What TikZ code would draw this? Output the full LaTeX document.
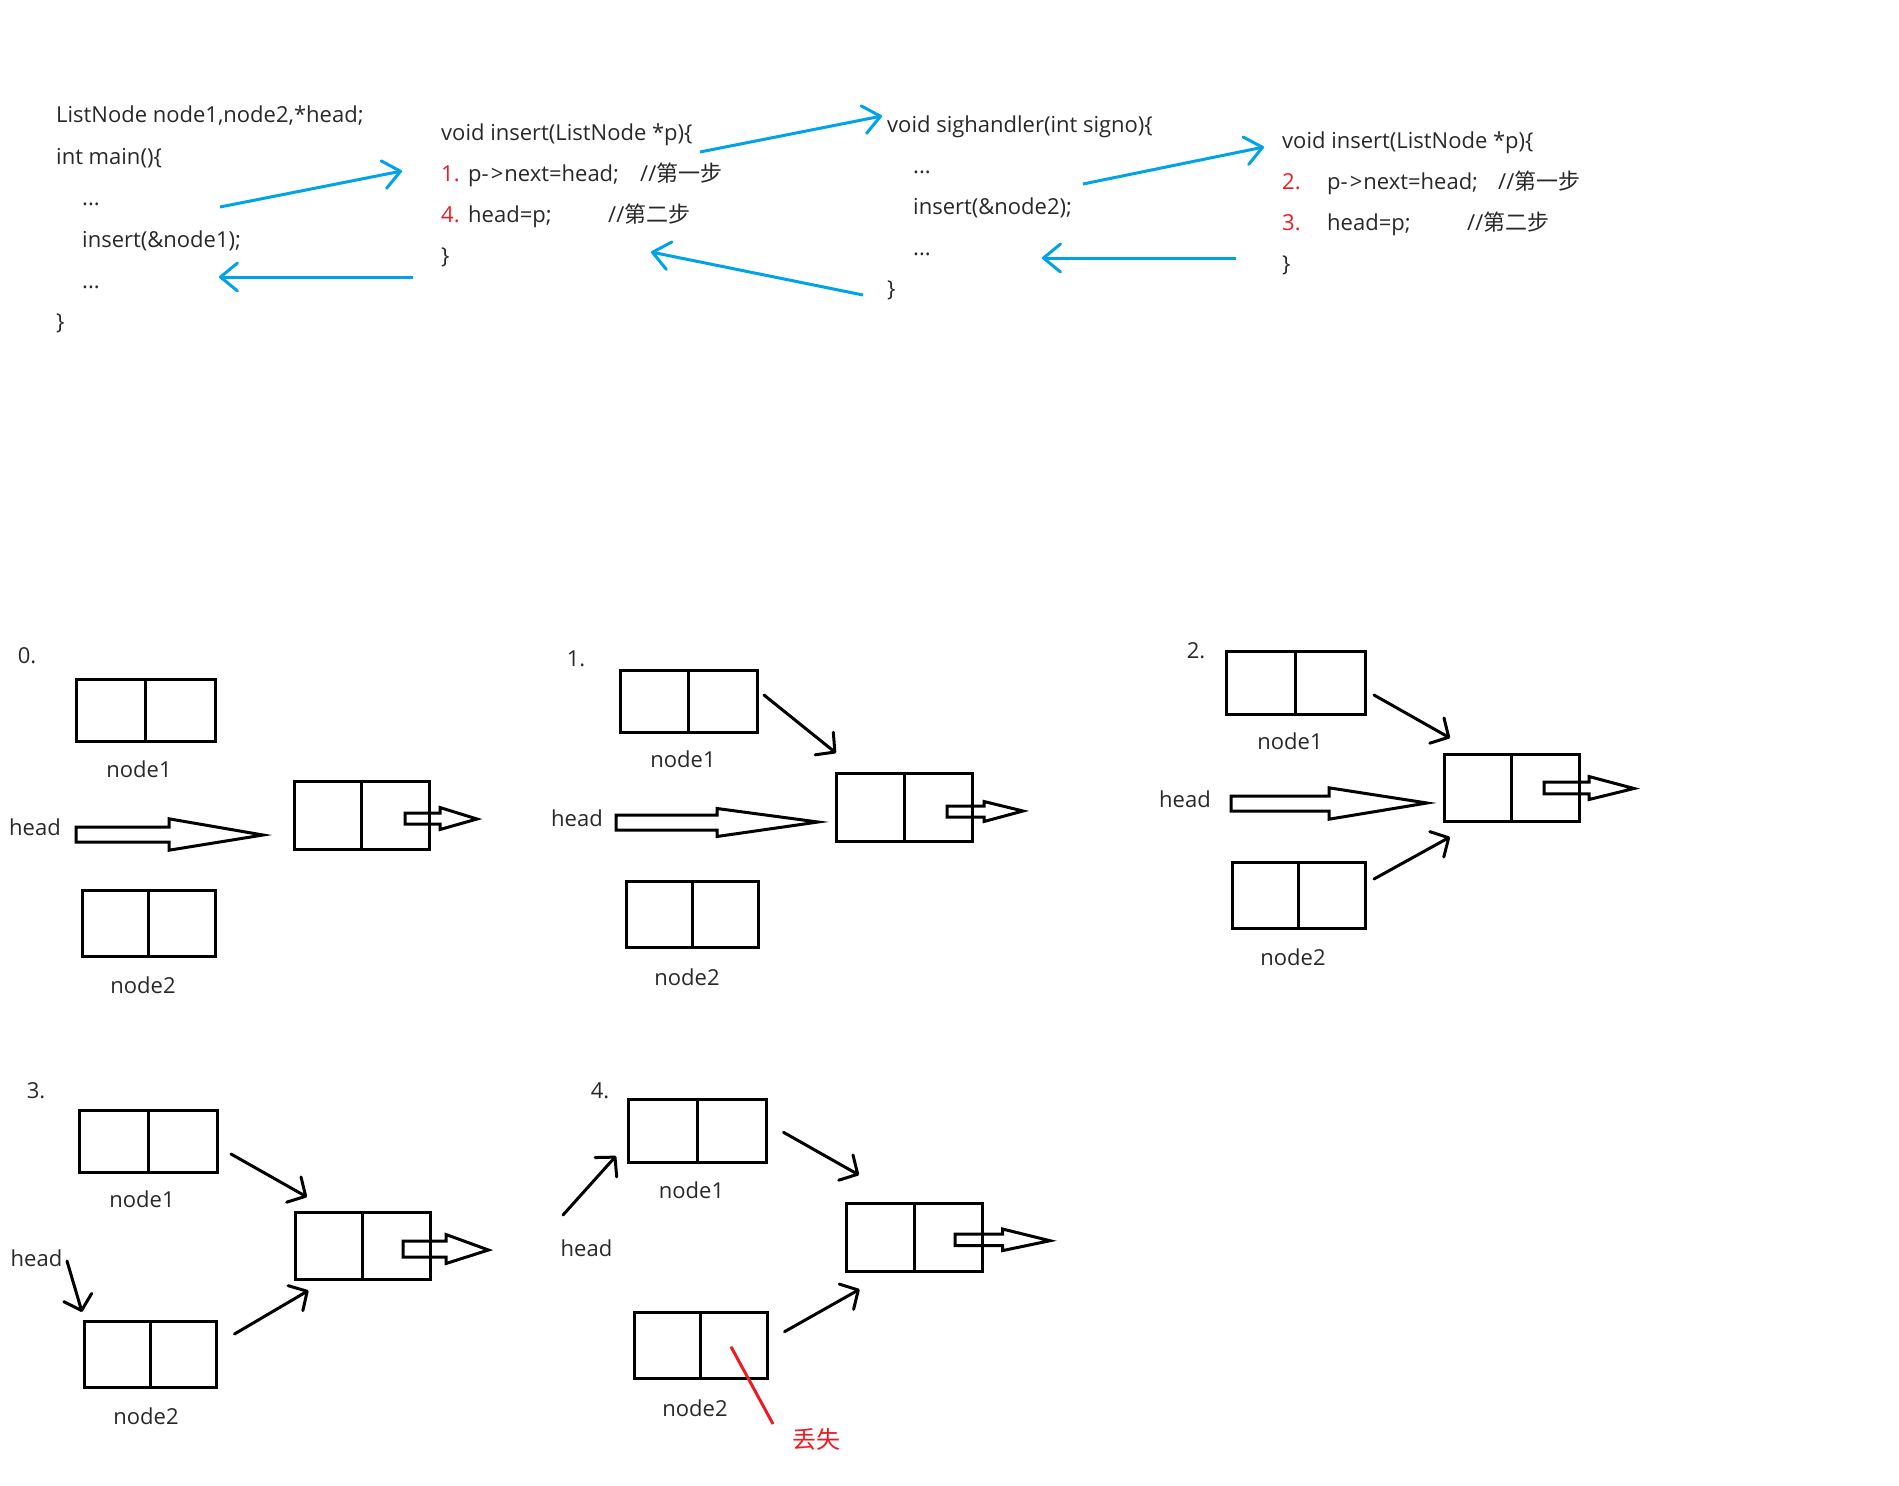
\documentclass[tikz,border=0pt]{standalone}
\usepackage{fontspec}
\setmainfont{Open Sans}
\newfontfamily\cjk{Noto Sans CJK SC}
\usetikzlibrary{arrows.meta}
\definecolor{txt}{RGB}{40,40,40}
\definecolor{pblue}{RGB}{0,162,232}
\definecolor{pred}{RGB}{237,28,36}
\newcommand\hollowarr[7]{%
  \draw[line width=3pt, line join=miter] (#1,#2-#3) -- (#4,#2-#3) -- (#4,#2-#5) -- (#6,#7) -- (#4,#2+#5) -- (#4,#2+#3) -- (#1,#2+#3) -- cycle;}
\newcommand\parrow{-\kern2pt>\kern1pt}
\begin{document}
\begin{tikzpicture}[x=1pt,y=-1pt,
  every node/.style={font=\fontsize{22}{26}\selectfont, text=txt, inner sep=0pt},
  code/.style={anchor=base west},
  num/.style={anchor=base west, text=pred},
  lbl/.style={anchor=base},
  cell/.style={draw=black, line width=3pt, inner sep=0pt,
    path picture={\draw[line width=3pt] (path picture bounding box.north) -- (path picture bounding box.south);}},
  blk/.style={line width=3pt, line cap=round, -{Straight Barb[length=13.6pt, width=29pt, round]}},
  blu/.style={line width=3pt, pblue, -{Straight Barb[length=17pt, width=28pt, round]}}
]
\useasboundingbox (0,0) rectangle (1899,1486);

% ---------- code block 1 ----------
\node[code] (c11) at (56,122) {ListNode node1,node2,*head;};
\node[code] (c12) at (56,164) {int main()\{};
\node[code] (c13) at (82,205) {...};
\node[code] (c14) at (82,247) {insert(\&node1);};
\node[code] (c15) at (82,288) {...};
\node[code] (c16) at (56,329) {\}};

% ---------- code block 2 ----------
\node[code] (c21) at (441,140) {void insert(ListNode *p)\{};
\node[num]  (n21) at (441,181) {1.};
\node[code] (c22) at (468,181) {p\parrow next=head;};
\node[code] (c22b) at (640,181) {//{\cjk 第一步}};
\node[num]  (n22) at (441,222) {4.};
\node[code] (c23) at (468,222) {head=p;};
\node[code] (c23b) at (608,222) {//{\cjk 第二步}};
\node[code] (c24) at (441,263) {\}};

% ---------- code block 3 ----------
\node[code] (c31) at (887,132) {void sighandler(int signo)\{};
\node[code] (c32) at (913,173) {...};
\node[code] (c33) at (913,214) {insert(\&node2);};
\node[code] (c34) at (913,255) {...};
\node[code] (c35) at (887,296) {\}};

% ---------- code block 4 ----------
\node[code] (c41) at (1282,148) {void insert(ListNode *p)\{};
\node[num]  (n41) at (1282,189) {2.};
\node[code] (c42) at (1327,189) {p\parrow next=head;};
\node[code] (c42b) at (1498,189) {//{\cjk 第一步}};
\node[num]  (n42) at (1282,230) {3.};
\node[code] (c43) at (1327,230) {head=p;};
\node[code] (c43b) at (1467,230) {//{\cjk 第二步}};
\node[code] (c44) at (1282,271) {\}};

% ---------- blue call/return arrows ----------
\coordinate (b1s) at (220,207);  \coordinate (b1e) at (402,171);
\coordinate (b2s) at (413,277);  \coordinate (b2e) at (219,277);
\coordinate (b3s) at (700,152);  \coordinate (b3e) at (882,116);
\coordinate (b4s) at (863,295);  \coordinate (b4e) at (651,252);
\coordinate (b5s) at (1083,184); \coordinate (b5e) at (1264,147);
\coordinate (b6s) at (1236,258); \coordinate (b6e) at (1042,258);
\draw[blu] (b1s) -- (b1e);
\draw[blu] (b2s) -- (b2e);
\draw[blu] (b3s) -- (b3e);
\draw[blu] (b4s) -- (b4e);
\draw[blu] (b5s) -- (b5e);
\draw[blu] (b6s) -- (b6e);

% ---------- diagram 0 ----------
\node[lbl] (s0) at (27,663) {0.};
\node[cell, minimum width=139, minimum height=62] (d0n1) at (145.5,710) {};
\node[lbl] (d0l1) at (139,777) {node1};
\node[lbl] (d0h) at (35,835) {head};
\node[cell, minimum width=135, minimum height=67.5] (d0t) at (361.5,815.25) {};
\node[cell, minimum width=133, minimum height=66] (d0n2) at (148.5,923) {};
\node[lbl] (d0l2) at (143,993) {node2};
\hollowarr{76}{834.5}{7.5}{169}{15.7}{263}{835}
\hollowarr{405}{818.5}{5.5}{440}{11}{477}{819}

% ---------- diagram 1 ----------
\node[lbl] (s1) at (576,666) {1.};
\node[cell, minimum width=137, minimum height=62] (d1n1) at (688.5,701) {};
\node[lbl] (d1l1) at (683,767) {node1};
\node[lbl] (d1h) at (577,826) {head};
\node[cell, minimum width=136, minimum height=68] (d1t) at (904,807) {};
\node[cell, minimum width=132, minimum height=66] (d1n2) at (692,914) {};
\node[lbl] (d1l2) at (687,985) {node2};
\hollowarr{616}{822.5}{7.5}{717}{14}{818}{822}
\hollowarr{947}{811.5}{5.5}{984}{10}{1023}{811}
\coordinate (a1s) at (764,695); \coordinate (a1e) at (836,753);
\draw[blk] (a1s) -- (a1e);

% ---------- diagram 2 ----------
\node[lbl] (s2) at (1196,658) {2.};
\node[cell, minimum width=139, minimum height=63] (d2n1) at (1295.5,682.5) {};
\node[lbl] (d2l1) at (1290,749) {node1};
\node[lbl] (d2h) at (1185,807) {head};
\node[cell, minimum width=135, minimum height=67] (d2t) at (1511.5,787.5) {};
\node[cell, minimum width=133, minimum height=66] (d2n2) at (1298.5,895) {};
\node[lbl] (d2l2) at (1293,965) {node2};
\hollowarr{1231}{803.5}{7.5}{1329}{15.7}{1427}{803}
\hollowarr{1544}{788}{5.8}{1589}{11.5}{1634}{788.5}
\coordinate (a2s) at (1374,695); \coordinate (a2e) at (1450,738);
\coordinate (a3s) at (1374,879); \coordinate (a3e) at (1450,837);
\draw[blk] (a2s) -- (a2e);
\draw[blk] (a3s) -- (a3e);

% ---------- diagram 3 ----------
\node[lbl] (s3) at (36,1098) {3.};
\node[cell, minimum width=138, minimum height=62] (d3n1) at (148,1141) {};
\node[lbl] (d3l1) at (142,1207) {node1};
\node[lbl] (d3h) at (36.5,1266) {head};
\node[cell, minimum width=135.5, minimum height=67] (d3t) at (362.75,1246) {};
\node[cell, minimum width=132, minimum height=66] (d3n2) at (150.6,1354) {};
\node[lbl] (d3l2) at (146,1424.5) {node2};
\hollowarr{403}{1249}{8}{446}{14.5}{488.5}{1250}
\coordinate (a4s) at (231,1154);   \coordinate (a4e) at (307,1197);
\coordinate (a5s) at (67,1261);    \coordinate (a5e) at (82,1312);
\coordinate (a6s) at (234.5,1334); \coordinate (a6e) at (308.5,1290.5);
\draw[blk] (a4s) -- (a4e);
\draw[blk] (a5s) -- (a5e);
\draw[blk] (a6s) -- (a6e);

% ---------- diagram 4 ----------
\node[lbl] (s4) at (600,1098) {4.};
\node[cell, minimum width=138, minimum height=62.7] (d4n1) at (697.5,1131.3) {};
\node[lbl] (d4l1) at (691.5,1198.7) {node1};
\node[lbl] (d4h) at (586.5,1256) {head};
\node[cell, minimum width=136, minimum height=67.7] (d4t) at (914,1237.2) {};
\node[cell, minimum width=133, minimum height=66] (d4n2) at (700.5,1345.3) {};
\node[lbl] (d4l2) at (695,1416.3) {node2};
\hollowarr{955}{1239.8}{5.8}{1002.5}{10.8}{1050}{1240.7}
\coordinate (a7s) at (563,1215);   \coordinate (a7e) at (616,1156);
\coordinate (a8s) at (783.5,1132.3); \coordinate (a8e) at (859,1175);
\coordinate (a9s) at (784.5,1331.7); \coordinate (a9e) at (859.6,1289.3);
\draw[blk] (a7s) -- (a7e);
\draw[blk] (a8s) -- (a8e);
\draw[blk] (a9s) -- (a9e);
\coordinate (r1) at (731,1346.7); \coordinate (r2) at (773,1424);
\draw[pred, line width=3pt] (r1) -- (r2);
\node[text=pred, font=\cjk\fontsize{24}{28}\selectfont] (lost) at (816.5,1439.3) {丢失};
\end{tikzpicture}
\end{document}
